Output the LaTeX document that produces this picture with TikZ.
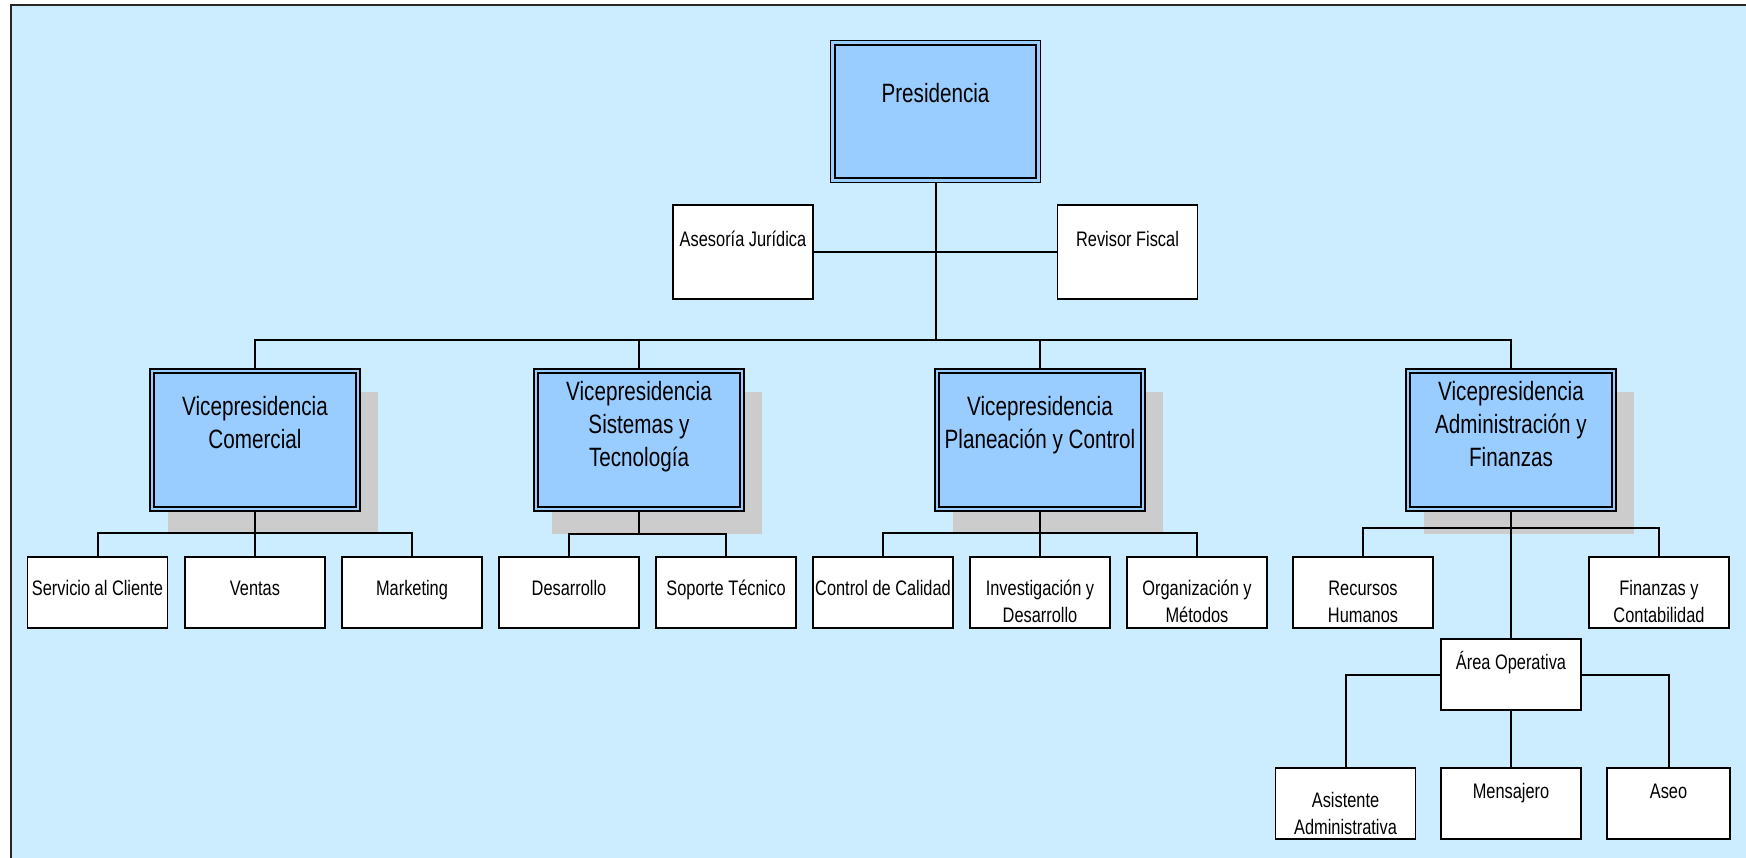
\documentclass[tikz,border=0pt]{standalone}
\usepackage{fontspec}
\setmainfont[FakeStretch=0.78]{Liberation Sans}
\usetikzlibrary{backgrounds}
\definecolor{bgblue}{RGB}{204,236,255}
\definecolor{vpblue}{RGB}{153,204,255}
\definecolor{shadowgray}{RGB}{204,204,204}
\begin{document}
\begin{tikzpicture}[x=1pt,y=-1pt,
  box/.style={draw=black, line width=1.8pt, fill=white, inner sep=0pt, outer sep=0pt, minimum width=140pt, minimum height=71pt},
  vpbox/.style={draw=black, line width=1.4pt, fill=vpblue, inner sep=0pt, outer sep=0pt, minimum width=210pt, minimum height=142pt},
  conn/.style={draw=black, line width=2pt},
  subtxt/.style={anchor=base, align=center, inner sep=0pt, font={\fontsize{21}{27}\selectfont}},
  vptxt/.style={anchor=base, align=center, inner sep=0pt, font={\fontsize{26.5}{33}\selectfont}},
  shade/.style={fill=shadowgray}
]
\useasboundingbox (0,0) rectangle (1746,858);
\begin{pgfonlayer}{background}
\fill[bgblue] (11,5) rectangle (1746,858);
\end{pgfonlayer}
\draw[line width=2pt, black!85] (11,860) -- (11,5) -- (1748,5);

% top level (anchor=base gives the baseline of the last line)
\node[vpbox] (pres) at (935.5,111.5) {};
\node[vptxt] (pres-t) at (935.5,103) {Presidencia};
\node[box, minimum height=94pt] (ases) at (743,252) {};
\node[subtxt] (ases-t) at (743,247) {Asesoría Jurídica};
\node[box, minimum height=94pt] (rev) at (1127.5,252) {};
\node[subtxt] (rev-t) at (1127.5,247) {Revisor Fiscal};

% vice presidencies
\node[vpbox] (vcom) at (255,440) {};
\node[vptxt] (vcom-t) at (255,449) {Vicepresidencia\\Comercial};
\node[vpbox] (vsis) at (639,440) {};
\node[vptxt] (vsis-t) at (639,466) {Vicepresidencia\\Sistemas y\\Tecnología};
\node[vpbox] (vpla) at (1040,440) {};
\node[vptxt] (vpla-t) at (1040,449) {Vicepresidencia\\Planeación y Control};
\node[vpbox] (vadm) at (1511,440) {};
\node[vptxt] (vadm-t) at (1511,466) {Vicepresidencia\\Administración y\\Finanzas};

\foreach \n in {vcom,vsis,vpla,vadm}{
  \begin{pgfonlayer}{background}
  \fill[shade] ([shift={(17.5,23)}]\n.north west) rectangle ([shift={(17.5,23)}]\n.south east);
  \end{pgfonlayer}
}
\foreach \n in {pres,vcom,vsis,vpla,vadm}
  \draw[line width=2.2pt] ([shift={(4.2,4.2)}]\n.north west) rectangle ([shift={(-4.2,-4.2)}]\n.south east);

% departments
\node[box] (serv) at (97.5,592.5) {};
\node[subtxt] (serv-t) at (97.5,595) {Servicio al Cliente};
\node[box] (vent) at (255,592.5) {};
\node[subtxt] (vent-t) at (255,595) {Ventas};
\node[box] (mark) at (412,592.5) {};
\node[subtxt] (mark-t) at (412,595) {Marketing};
\node[box] (desa) at (569,592.5) {};
\node[subtxt] (desa-t) at (569,595) {Desarrollo};
\node[box] (sopo) at (726,592.5) {};
\node[subtxt] (sopo-t) at (726,595) {Soporte Técnico};
\node[box] (ctrl) at (883,592.5) {};
\node[subtxt] (ctrl-t) at (883,595) {Control de Calidad};
\node[box] (inve) at (1040,592.5) {};
\node[subtxt] (inve-t) at (1040,622) {Investigación y\\Desarrollo};
\node[box] (orga) at (1197,592.5) {};
\node[subtxt] (orga-t) at (1197,622) {Organización y\\Métodos};
\node[box] (rrhh) at (1363,592.5) {};
\node[subtxt] (rrhh-t) at (1363,622) {Recursos\\Humanos};
\node[box] (fina) at (1659,592.5) {};
\node[subtxt] (fina-t) at (1659,622) {Finanzas y\\Contabilidad};
\node[box] (area) at (1511,674.5) {};
\node[subtxt] (area-t) at (1511,669) {Área Operativa};
\node[box] (asis) at (1345.5,803.5) {};
\node[subtxt] (asis-t) at (1345.5,834) {Asistente\\Administrativa};
\node[box] (mens) at (1511,803.5) {};
\node[subtxt] (mens-t) at (1511,798) {Mensajero};
\node[box, minimum width=123pt] (aseo) at (1668.5,803.5) {};
\node[subtxt] (aseo-t) at (1668.5,798) {Aseo};

% connectors
\coordinate (mb) at (935.5,340);
\draw[conn] (pres.south) -- (mb);
\draw[conn] (vcom.north) |- (vadm.north |- mb) -- (vadm.north);
\draw[conn] (vsis.north) -- (vsis.north |- mb);
\draw[conn] (vpla.north) -- (vpla.north |- mb);
\draw[conn] (ases.east) -- (rev.west);

\coordinate (cb1) at (255,533);
\draw[conn] (vcom.south) -- (cb1);
\draw[conn] (serv.north) |- (mark.north |- cb1) -- (mark.north);
\draw[conn] (vent.north) -- (cb1);
\coordinate (cb2) at (639,534);
\draw[conn] (vsis.south) -- (cb2);
\draw[conn] (desa.north) |- (sopo.north |- cb2) -- (sopo.north);
\coordinate (cb3) at (1040,533);
\draw[conn] (vpla.south) -- (inve.north);
\draw[conn] (ctrl.north) |- (orga.north |- cb3) -- (orga.north);
\coordinate (cb4) at (1511,528);
\draw[conn] (vadm.south) -- (area.north);
\draw[conn] (rrhh.north) |- (fina.north |- cb4) -- (fina.north);
\draw[conn] (area.west) -| (asis.north);
\draw[conn] (area.east) -| (aseo.north);
\draw[conn] (area.south) -- (mens.north);
\end{tikzpicture}
\end{document}
